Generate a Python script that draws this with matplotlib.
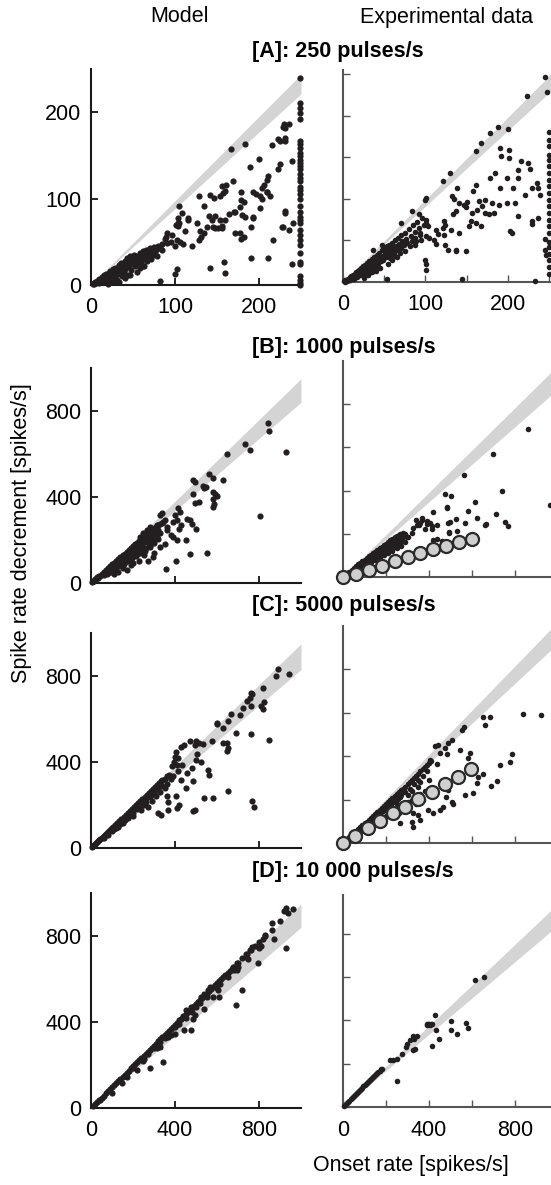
import numpy as np
import matplotlib
matplotlib.use("Agg")
import matplotlib.pyplot as plt

plt.rcParams["font.family"] = ["Liberation Sans", "DejaVu Sans"]

# ---- data: (onset rate, spike rate decrement) ----
a_model = np.array([
    (2, 1), (3, 2), (4, 1), (5, 3), (6, 2), (7, 5), (8, 3), (9, 2), (10, 7), (11, 4), (12, 6),
    (13, 9), (14, 3), (15, 6), (16, 11), (17, 8), (18, 13), (19, 5), (20, 10), (21, 14), (22, 7),
    (23, 16), (24, 11), (25, 4), (26, 18), (27, 9), (28, 14), (29, 20), (30, 12), (31, 6), (32, 17),
    (33, 23), (34, 13), (35, 19), (36, 26), (37, 10), (38, 21), (39, 15), (40, 28), (41, 18),
    (42, 24), (43, 31), (44, 12), (45, 21), (46, 27), (47, 33), (48, 17), (49, 25), (50, 30),
    (51, 35), (52, 22), (53, 28), (54, 33), (55, 15), (56, 26), (57, 31), (58, 37), (59, 24),
    (60, 34), (61, 29), (62, 39), (63, 22), (64, 32), (65, 41), (66, 36), (67, 28), (68, 40),
    (69, 33), (70, 43), (71, 37), (72, 30), (73, 41), (74, 35), (75, 44), (76, 38), (78, 42),
    (79, 33), (80, 45), (20, 1), (30, 3), (33, 3), (40, 8), (47, 12), (62, 22), (58, 20),
    (82, 44), (85, 47), (85, 40), (88, 53), (90, 49),
    (90, 60), (89, 55), (95, 50), (97, 58), (100, 45), (101, 70), (103, 72), (104, 68), (105, 91),
    (105, 72), (104, 78), (102, 52), (106, 50), (110, 48), (108, 83), (112, 62), (115, 78), (116, 75),
    (120, 45), (126, 72), (129, 52), (130, 62), (131, 56), (134, 60), (134, 92), (138, 67), (140, 80),
    (142, 104), (144, 75), (145, 67), (148, 66), (148, 80), (151, 66), (154, 75), (156, 66), (156, 68),
    (160, 75), (164, 82), (170, 85), (129, 103), (146, 101), (154, 103), (157, 106), (160, 109),
    (156, 115), (161, 116), (169, 120), (177, 90), (179, 108), (180, 81), (183, 79), (178, 98),
    (182, 96), (193, 108), (196, 105), (201, 103), (203, 99), (201, 89), (193, 79), (191, 67),
    (177, 60), (182, 55), (179, 53), (209, 108), (213, 103), (206, 116), (204, 112), (210, 108),
    (211, 126), (209, 121), (225, 140), (223, 134), (223, 169), (229, 183), (230, 186), (216, 162),
    (200, 146), (189, 137), (183, 163), (167, 157), (231, 182), (236, 186), (231, 167), (231, 170),
    (225, 167), (239, 143), (231, 86), (231, 83), (217, 52), (227, 67), (236, 64), (241, 72),
    (239, 24), (191, 31), (211, 31), (171, 85), (171, 60), (193, 78), (82, 5), (100, 13), (102, 19),
    (142, 20), (158, 27), (160, 14), (228, 67),
    (249, 240), (249, 211), (249, 205), (249, 199), (249, 192), (249, 167), (249, 163), (249, 159),
    (249, 153), (249, 149), (249, 145), (249, 141), (249, 138), (249, 134), (249, 128), (249, 124),
    (249, 120), (249, 114), (249, 110), (249, 105), (249, 99), (249, 91), (249, 85), (249, 79),
    (249, 75), (249, 72), (249, 64), (249, 58), (249, 52), (249, 46), (249, 37), (249, 27), (249, 24),
    (249, 10), (249, 6), (249, 2), (249, 0),
])

a_exp = np.array([
    (100, 99), (101, 101), (121, 121), (130, 131), (84, 85), (92, 82), (70, 71), (47, 45), (37, 38),
    (161, 158), (167, 167), (179, 179), (188, 187), (200, 184), (224, 224), (245, 247), (248, 229),
    (191, 161), (201, 159), (192, 151), (202, 149), (216, 146), (225, 143), (227, 136), (179, 125),
    (185, 131), (199, 125), (213, 135), (213, 125), (229, 113), (235, 119), (237, 113), (239, 105),
    (191, 113), (207, 113), (221, 105), (209, 95), (199, 95), (189, 93), (181, 95), (173, 99),
    (165, 97), (162, 117), (158, 109), (151, 96), (147, 93), (149, 90), (157, 83), (163, 87),
    (169, 91), (173, 83), (177, 82), (183, 83), (161, 71), (167, 67), (155, 73), (153, 67), (141, 95),
    (135, 100), (132, 104), (139, 113), (137, 86), (133, 82), (123, 73), (124, 69), (122, 65),
    (113, 62), (115, 58), (111, 50), (113, 46), (105, 53), (101, 55), (103, 67), (101, 75), (101, 71),
    (93, 59), (95, 51), (89, 49), (87, 45), (81, 43), (77, 49), (75, 37), (69, 35), (63, 31), (57, 29),
    (127, 39), (137, 39), (137, 37), (149, 37), (123, 57), (131, 63), (141, 59), (124, 45), (100, 26),
    (101, 22), (101, 15), (145, 4), (53, 4), (233, 1), (203, 61), (205, 59), (213, 79), (229, 73),
    (229, 70), (237, 77), (245, 52), (245, 38), (247, 32),
    (250, 181), (250, 171), (250, 163), (250, 153), (250, 147), (250, 139), (250, 131), (250, 123),
    (250, 115), (250, 107), (250, 99), (250, 91), (250, 83), (250, 75), (250, 67), (250, 59),
    (250, 48), (250, 42), (250, 34), (250, 26), (250, 18), (250, 10),
    (1, 1), (2, 2), (3, 0), (4, 3), (5, 1), (6, 4), (7, 2), (8, 6), (9, 3), (10, 7), (11, 5),
    (12, 9), (13, 4), (14, 10), (15, 7), (16, 12), (17, 6), (18, 13), (19, 9), (20, 15), (21, 8),
    (22, 17), (23, 12), (24, 19), (25, 10), (26, 16), (27, 21), (28, 13), (29, 23), (30, 17),
    (31, 11), (32, 25), (33, 19), (34, 14), (35, 28), (36, 22), (37, 17), (38, 30), (39, 24),
    (40, 19), (41, 33), (42, 27), (43, 22), (44, 35), (45, 29), (46, 25), (47, 38), (48, 31),
    (49, 27), (50, 40), (51, 34), (52, 30), (53, 43), (54, 37), (55, 32), (56, 45), (57, 39),
    (58, 34), (59, 47), (60, 41), (62, 36), (63, 50), (64, 43), (66, 39), (67, 53), (68, 46),
    (70, 41), (71, 56), (72, 49), (74, 44), (75, 59), (77, 52), (78, 47), (80, 64), (82, 55),
    (84, 49), (85, 68), (87, 60), (88, 53), (90, 72), (92, 65), (94, 57), (96, 77), (98, 69),
    (25, 5), (35, 12), (45, 17), (55, 22), (60, 27), (30, 8), (65, 30), (40, 13),
])

b_model = np.array([
    (844, 746), (847, 709), (733, 647), (757, 619), (929, 608), (649, 598), (805, 312), (563, 505),
    (583, 490), (627, 479), (487, 480), (495, 468), (535, 453), (548, 445), (538, 441), (579, 423),
    (590, 415), (598, 403), (583, 392), (587, 367), (583, 352), (487, 414), (495, 371), (515, 378),
    (416, 347), (424, 332), (400, 316), (411, 293), (392, 285), (455, 300), (471, 292), (479, 276),
    (500, 253), (452, 199), (471, 137), (551, 141), (406, 103), (357, 67), (329, 316), (336, 324),
    (344, 285), (360, 262), (313, 270), (321, 246),
    (5, 4), (10, 8), (15, 11), (20, 17), (25, 19), (30, 26), (35, 25), (40, 34), (45, 33), (50, 44),
    (55, 41), (60, 51), (65, 47), (70, 61), (75, 55), (80, 69), (85, 62), (90, 78), (95, 70),
    (100, 87), (105, 75), (110, 95), (115, 86), (120, 102), (125, 92), (130, 112), (135, 100),
    (140, 120), (145, 107), (150, 129), (155, 115), (160, 137), (165, 122), (170, 145), (175, 130),
    (180, 154), (185, 138), (190, 162), (195, 145), (200, 171), (205, 152), (210, 180), (215, 160),
    (220, 188), (225, 168), (230, 197), (235, 176), (240, 206), (245, 184), (250, 212), (255, 190),
    (260, 222), (265, 198), (270, 230), (275, 206), (280, 240), (285, 214), (290, 247), (295, 226),
    (300, 256), (305, 232), (310, 262), (320, 268), (330, 276), (340, 281), (350, 291),
    (60, 37), (80, 46), (100, 62), (120, 73), (140, 86), (160, 97), (180, 112), (200, 124),
    (220, 137), (240, 152), (260, 163), (280, 176), (300, 186), (320, 203), (233, 216), (249, 231),
    (265, 246), (281, 262), (297, 200), (313, 216), (329, 231), (360, 246), (392, 216), (408, 200),
    (281, 169), (297, 123), (329, 169), (200, 92), (150, 71), (250, 131), (300, 141), (350, 182),
    (380, 221), (420, 250), (430, 270), (270, 102), (230, 104), (190, 82), (170, 62), (130, 52),
    (110, 42), (75, 40), (95, 52), (115, 63), (135, 78), (155, 90), (175, 103), (195, 116),
    (215, 127), (235, 140), (255, 150), (275, 188), (195, 130), (150, 100), (120, 85), (245, 170),
])

b_exp = np.array([
    (862, 684), (699, 571), (564, 473), (740, 399), (963, 333), (474, 383), (502, 374), (485, 320),
    (420, 302), (614, 345), (583, 306), (625, 271), (567, 251), (526, 268), (490, 251), (529, 214),
    (494, 209), (712, 291), (753, 253), (769, 235), (663, 244), (482, 322), (498, 256), (660, 240),
    (495, 202), (420, 171), (439, 178), (459, 168),
    (366, 271), (389, 260), (405, 248), (412, 220), (358, 251), (343, 240), (327, 225), (281, 205),
    (265, 199), (296, 186), (319, 205), (381, 220), (340, 266), (366, 263), (355, 240), (389, 244),
    (412, 235), (436, 240),
    (5, 4), (10, 8), (15, 10), (20, 17), (25, 16), (30, 25), (35, 22), (40, 34), (45, 29), (50, 42),
    (55, 36), (60, 50), (65, 43), (70, 58), (75, 49), (80, 65), (85, 55), (90, 73), (95, 61),
    (100, 80), (105, 67), (110, 88), (115, 74), (120, 95), (125, 80), (130, 103), (135, 86),
    (140, 110), (145, 93), (150, 117), (155, 99), (160, 124), (165, 106), (170, 132), (175, 112),
    (180, 140), (185, 119), (190, 148), (195, 126), (200, 155), (205, 133), (210, 162), (215, 141),
    (220, 170), (225, 147), (230, 178), (235, 156), (240, 184), (245, 164), (250, 190), (255, 171),
    (260, 194), (270, 180), (280, 191), (290, 197), (300, 186),
    (30, 15), (50, 25), (70, 35), (90, 48), (110, 58), (130, 68), (150, 80), (170, 90), (190, 100),
    (210, 110), (230, 120), (250, 135), (270, 145), (290, 160), (60, 38), (80, 44), (100, 55),
    (120, 75), (140, 82), (160, 95), (180, 105), (200, 118), (220, 130), (240, 140), (260, 155),
    (280, 165),
])
b_circles = np.array([
    (0, 0), (60, 12), (120, 32), (180, 52), (240, 72), (300, 92), (360, 110), (420, 128),
    (480, 144), (540, 160), (600, 178),
])

c_model = np.array([
    (892, 832), (881, 801), (944, 809), (817, 743), (824, 679), (810, 660), (817, 648), (760, 723),
    (765, 715), (757, 700), (741, 684), (722, 653), (760, 661), (760, 530), (846, 501), (710, 617),
    (690, 536), (665, 621), (654, 590), (627, 559), (598, 575), (598, 583), (646, 489), (654, 465),
    (646, 450), (627, 489), (578, 497), (555, 365), (564, 341), (540, 232), (581, 232), (652, 263),
    (765, 220), (776, 192), (500, 497), (495, 481), (516, 489), (535, 486), (503, 435), (500, 411),
    (522, 399), (479, 372), (455, 349), (484, 310), (495, 177), (487, 172), (416, 419), (432, 388),
    (408, 388), (416, 357), (392, 333), (427, 318), (452, 279), (405, 240), (421, 201), (408, 185),
    (368, 216), (368, 177), (317, 162), (333, 154), (360, 240),
    (5, 5), (10, 9), (15, 14), (20, 18), (25, 23), (30, 27), (35, 33), (40, 36), (45, 42), (50, 45),
    (55, 52), (60, 55), (65, 61), (70, 63), (75, 70), (80, 73), (85, 80), (90, 82), (95, 89),
    (100, 91), (105, 99), (110, 100), (115, 108), (120, 109), (125, 117), (130, 118), (135, 127),
    (140, 127), (145, 136), (150, 136), (155, 146), (160, 145), (165, 155), (170, 154), (175, 164),
    (180, 163), (185, 173), (190, 171), (195, 183), (200, 180), (205, 192), (210, 189), (215, 201),
    (220, 198), (225, 211), (230, 207), (235, 220), (240, 216), (245, 229), (250, 225), (255, 239),
    (260, 234), (265, 248), (270, 243), (275, 257), (280, 252), (285, 266), (290, 261), (295, 275),
    (300, 270), (305, 284), (310, 279), (315, 293), (320, 288), (325, 302), (330, 297), (335, 311),
    (340, 318), (350, 322), (360, 335), (370, 340),
    (60, 45), (80, 60), (100, 80), (120, 95), (140, 110), (160, 130), (180, 150), (200, 165),
    (220, 180), (240, 200), (260, 215), (280, 235), (300, 250), (320, 270), (340, 290), (360, 300),
    (380, 320), (200, 150), (240, 175), (270, 190), (290, 220), (310, 240), (330, 260), (350, 280),
    (250, 200), (230, 185), (150, 115), (175, 140), (110, 90), (130, 100),
    (398, 425), (395, 400), (405, 445), (385, 380), (430, 470), (445, 480), (470, 500),
])

c_exp = np.array([
    (836, 594), (919, 590), (653, 579), (684, 582), (660, 544), (563, 533), (552, 521), (785, 410),
    (777, 371), (730, 359), (715, 285), (687, 262), (650, 318), (629, 306), (622, 278), (603, 229),
    (567, 221), (591, 413), (583, 390), (544, 429), (506, 475), (490, 460), (474, 437), (482, 412),
    (443, 452), (428, 445), (451, 413), (405, 382), (436, 366), (482, 275), (490, 244), (479, 213),
    (506, 190), (513, 180), (467, 167), (451, 152), (420, 137), (397, 152), (327, 137), (320, 99),
    (324, 76), (265, 91), (349, 129), (357, 106),
    (5, 5), (10, 9), (15, 12), (20, 18), (25, 20), (30, 27), (35, 28), (40, 36), (45, 37), (50, 45),
    (55, 45), (60, 54), (65, 53), (70, 63), (75, 61), (80, 72), (85, 69), (90, 81), (95, 77),
    (100, 90), (105, 85), (110, 99), (115, 93), (120, 108), (125, 101), (130, 117), (135, 109),
    (140, 126), (145, 117), (150, 135), (155, 125), (160, 144), (165, 133), (170, 153), (175, 141),
    (180, 162), (185, 149), (190, 171), (195, 157), (200, 180), (205, 165), (210, 189), (215, 173),
    (220, 198), (225, 181), (230, 207), (235, 189), (240, 216), (245, 197), (250, 225), (255, 205),
    (260, 234), (265, 213), (270, 243), (280, 250), (290, 260), (300, 270), (310, 280), (320, 290),
    (330, 300), (340, 310), (350, 320), (360, 330), (370, 340), (380, 350), (390, 360), (400, 370),
    (410, 378),
    (60, 40), (80, 50), (100, 65), (120, 75), (140, 90), (160, 100), (180, 115), (200, 125),
    (220, 140), (240, 150), (260, 165), (280, 180), (300, 190), (320, 200), (340, 215), (360, 225),
    (380, 240), (400, 250), (100, 75), (150, 110), (200, 150), (250, 180), (300, 220), (350, 260),
    (400, 290), (300, 160), (340, 180), (370, 200), (260, 140), (220, 120), (310, 250), (330, 270),
    (350, 290), (370, 310), (390, 330), (290, 235), (270, 220), (320, 240), (360, 280),
])
c_circles = np.array([
    (0, 0), (55, 30), (115, 70), (172, 102), (233, 138), (290, 167), (350, 203), (412, 236),
    (473, 270), (535, 305), (595, 340),
])

d_model = np.array([
    (929, 931), (917, 918), (862, 860), (873, 788), (829, 803), (817, 788), (802, 745), (808, 752),
    (929, 745), (765, 749), (757, 737), (744, 714), (738, 703), (749, 694), (797, 673), (697, 673),
    (681, 642), (675, 657), (694, 640), (718, 549), (690, 479), (614, 578), (606, 551), (583, 517),
    (611, 517), (567, 563), (538, 462), (495, 431), (487, 416), (474, 361), (444, 361), (413, 392),
    (405, 385), (429, 416), (452, 455), (476, 470), (508, 493), (524, 516), (540, 531), (556, 547),
    (398, 346), (381, 339), (365, 331), (313, 277), (329, 285), (281, 184), (341, 212), (249, 220),
    (217, 177), (170, 146), (146, 115), (98, 69), (43, 38),
    (10, 10), (20, 19), (30, 29), (40, 38), (50, 48), (60, 58), (70, 68), (80, 77), (90, 87),
    (100, 97), (110, 106), (120, 116), (130, 126), (140, 135), (150, 145), (160, 155), (170, 165),
    (180, 174), (190, 184), (200, 194), (210, 203), (220, 213), (230, 223), (240, 232), (250, 242),
    (260, 252), (270, 261), (280, 271), (290, 281), (300, 290), (310, 300), (320, 310), (330, 320),
    (340, 329), (350, 339), (360, 349), (370, 358), (380, 368), (390, 378), (400, 387), (410, 397),
    (420, 407), (430, 416), (440, 426), (450, 436), (460, 445), (470, 455), (480, 465), (490, 474),
    (500, 484), (510, 494), (520, 503), (530, 513), (540, 523), (550, 532), (560, 542), (570, 552),
    (580, 561), (590, 571), (600, 580), (610, 590), (620, 600), (630, 609), (640, 619), (650, 628),
    (660, 638), (670, 648), (680, 657), (700, 676), (720, 696), (740, 715), (760, 735), (780, 754),
    (800, 773), (830, 800), (860, 830), (900, 868), (940, 905), (960, 925),
    (200, 185), (250, 230), (300, 280), (350, 325), (400, 375), (450, 420), (500, 470), (550, 515),
    (600, 560), (650, 610), (700, 655), (420, 390), (480, 445), (520, 490), (330, 305), (270, 250),
])

d_exp = np.array([
    (614, 588), (657, 600), (428, 426), (389, 380), (405, 380), (412, 384), (432, 357), (501, 397),
    (501, 354), (529, 338), (572, 387), (583, 366), (446, 314), (415, 280), (327, 326), (331, 315),
    (299, 290), (293, 278), (327, 264), (335, 267), (312, 312), (343, 326), (273, 245), (249, 222),
    (234, 218), (219, 218), (175, 175), (252, 120),
    (5, 5), (10, 10), (15, 15), (20, 20), (25, 25), (30, 30), (35, 35), (40, 40), (45, 45), (50, 50),
    (55, 55), (60, 60), (65, 65), (70, 70), (75, 75), (80, 80), (85, 85), (90, 90), (95, 95),
    (100, 100), (105, 105), (110, 110), (115, 114), (120, 119), (125, 124), (130, 129), (135, 134),
    (140, 139), (145, 144), (150, 149), (155, 154), (160, 158), (165, 163), (170, 168), (180, 177),
    (390, 383), (395, 383), (400, 384), (410, 383),
])

rows = ["[A]: 250 pulses/s", "[B]: 1000 pulses/s", "[C]: 5000 pulses/s", "[D]: 10 000 pulses/s"]

# grey wedge (lower slope, upper slope) per panel
bands_model = [(0.885, 0.975), (0.84, 0.95), (0.83, 0.95), (0.84, 0.95)]
bands_exp = [(0.91, 0.99), (0.87, 0.98), (0.92, 1.02), (0.84, 0.94)]

# ---- layout ----
fig = plt.figure(figsize=(5.51, 11.85), dpi=100)
W, H = 551, 1185

def px_axes(x0, y_bottom, w, h):
    return fig.add_axes([x0 / W, 1 - y_bottom / H, w / W, h / H])

left_specs = [(285, 216, 250, 250), (583, 215, 1000, 1000), (848, 215, 1000, 1000), (1108, 215, 1000, 1000)]
right_specs = [(282, 212, 255, 255), (577, 216, 1000, 1000), (843, 217, 1000, 1000), (1107, 212, 1000, 980)]

models = [a_model, b_model, c_model, d_model]
exps = [a_exp, b_exp, c_exp, d_exp]
circles = [None, b_circles, c_circles, None]

dot_color = "#231f20"
band_color = "#d4d4d4"

for i in range(4):
    yb, hh, xmax, ymax = left_specs[i]
    ax = px_axes(91, yb, 210, hh)
    xs = np.linspace(0, xmax, 50)
    lo, hi = bands_model[i]
    ax.fill_between(xs, lo * xs, hi * xs, color=band_color, lw=0, zorder=1)
    ax.scatter(models[i][:, 0], models[i][:, 1], s=20, color=dot_color, lw=0, zorder=3, clip_on=False)
    ax.set_xlim(0, xmax)
    ax.set_ylim(0, ymax)
    for s in ["top", "right"]:
        ax.spines[s].set_visible(False)
    for s in ["left", "bottom"]:
        ax.spines[s].set_linewidth(1.5)
        ax.spines[s].set_color("#1a1a1a")
    if i == 0:
        ax.set_xticks([0, 100, 200])
        ax.set_yticks([0, 100, 200])
    else:
        ax.set_xticks([0, 400, 800])
        ax.set_yticks([0, 400, 800])
    if i in (1, 2):
        ax.set_xticklabels([])
    ax.tick_params(direction="in", length=5, width=1.2, labelsize=15.5)
    ax.tick_params(axis="y", pad=7)
    ax.tick_params(axis="x", pad=9)

    # experimental panel, cut by the right edge of the figure
    yb, hh, xmax, ymax = right_specs[i]
    ax = px_axes(343, yb, 215 if i else 210, hh)
    xs = np.linspace(0, xmax, 50)
    lo, hi = bands_exp[i]
    ax.fill_between(xs, lo * xs, hi * xs, color=band_color, lw=0, zorder=1)
    ax.scatter(exps[i][:, 0], exps[i][:, 1], s=16, color=dot_color, lw=0, zorder=3, clip_on=False)
    if circles[i] is not None:
        ax.scatter(circles[i][:, 0], circles[i][:, 1], s=88, facecolor="#cfcfcf",
                   edgecolor="#2a2a2a", lw=1.6, zorder=4, clip_on=False)
    ax.set_xlim(0, xmax)
    ax.set_ylim(0, ymax)
    for s in ["top", "right"]:
        ax.spines[s].set_visible(False)
    for s in ["left", "bottom"]:
        ax.spines[s].set_linewidth(1.5)
        ax.spines[s].set_color("#555555")
    if i == 0:
        ax.set_xticks([0, 50, 100, 150, 200, 250])
        ax.set_xticklabels(["0", "", "100", "", "200", ""])
        ax.set_yticks([0, 50, 100, 150, 200, 250])
    else:
        ax.set_xticks([0, 200, 400, 600, 800])
        ax.set_xticklabels(["0", "", "400", "", "800"] if i == 3 else [])
        ax.set_yticks([0, 200, 400, 600, 800])
    ax.set_yticklabels([])
    ax.tick_params(direction="in", length=5, width=1.0, color="#555555", labelsize=15.5)
    ax.tick_params(axis="x", pad=9)

# headers and row titles
fig.text(179 / W, 1 - 17 / H, "Model", ha="center", va="center", fontsize=15.5)
fig.text(446 / W, 1 - 17 / H, "Experimental data", ha="center", va="center", fontsize=15.5)
for title, yc in zip(rows, [52, 348, 605, 872]):
    fig.text(252 / W, 1 - yc / H, title, ha="left", va="center", fontsize=15.5, fontweight="bold")

fig.text(22 / W, 1 - 533 / H, "Spike rate decrement [spikes/s]", rotation=90,
         ha="center", va="center", fontsize=15.5)
fig.text(411 / W, 1 - 1165 / H, "Onset rate [spikes/s]", ha="center", va="center", fontsize=15.5)

fig.savefig("out.png", dpi=100)
